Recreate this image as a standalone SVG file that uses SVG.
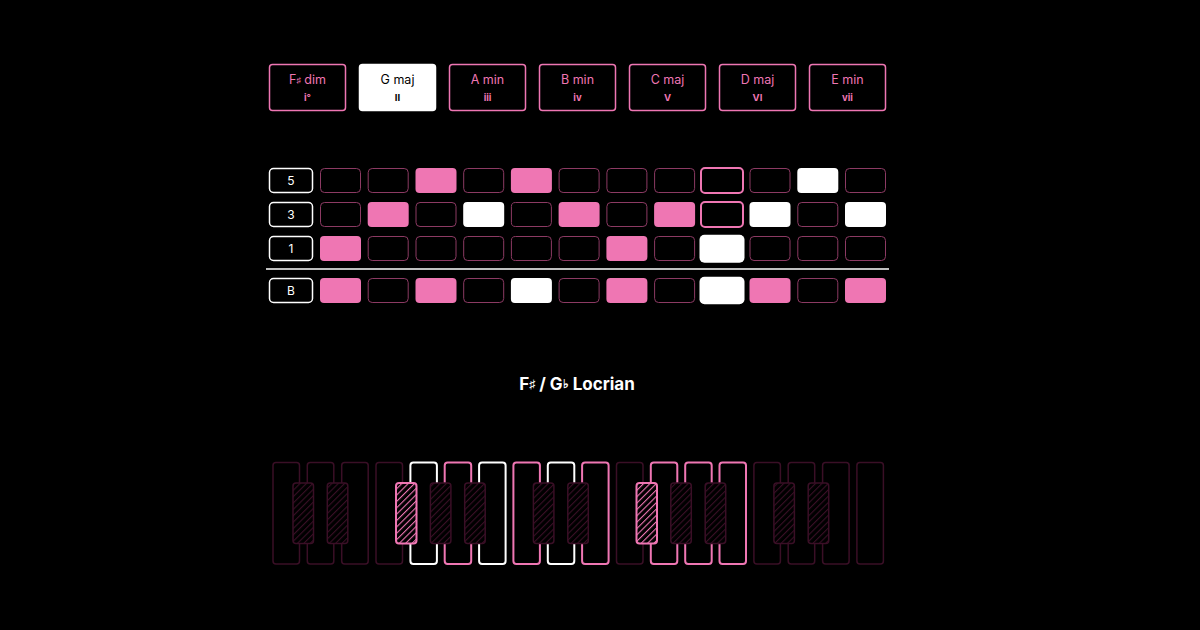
<svg xmlns="http://www.w3.org/2000/svg" width="1200" height="630" viewBox="0 0 1200 630">
<defs>
<style>
text{font-family:Inter,"Liberation Sans",sans-serif}
.chord{fill:#000;stroke:#ef76b3;stroke-width:1.5}
.chord.sel{fill:#fff;stroke:#fff}
.cn{font-size:12.5px;fill:#ef76b3;text-anchor:middle}
.cr{font-size:9.5px;font-weight:700;fill:#ef76b3;text-anchor:middle}
.sel-t{fill:#000}
.lab{fill:#000;stroke:#fff;stroke-width:1.5}
.labt{font-size:12px;fill:#fff;text-anchor:middle}
.c{fill:#000;stroke:#8c3a63;stroke-width:1}
.cp{fill:#ef76b3;stroke:none}
.cw{fill:#fff;stroke:none}
.ch{fill:#000;stroke:#ef76b3;stroke-width:2}
.wk{fill:#000;stroke:#3a0f26;stroke-width:1.5}
.wk.p{stroke:#ef76b3;stroke-width:2}
.wk.w{stroke:#fff;stroke-width:2}
.bk{stroke:#3a0f26;stroke-width:1.5}
.bk.p{stroke:#ef76b3;stroke-width:2}
</style>
<pattern id="hd" patternUnits="userSpaceOnUse" width="4.5" height="4.5" patternTransform="rotate(45)">
<rect width="4.5" height="4.5" fill="#000"/>
<line x1="0" y1="0" x2="0" y2="4.5" stroke="#3a0f26" stroke-width="2.2"/>
</pattern>
<pattern id="hp" patternUnits="userSpaceOnUse" width="4.5" height="4.5" patternTransform="rotate(45)">
<rect width="4.5" height="4.5" fill="#000"/>
<line x1="0" y1="0" x2="0" y2="4.5" stroke="#ef76b3" stroke-width="2.2"/>
</pattern>
</defs>
<rect width="1200" height="630" fill="#000"/>

<g id="chords">
<g id="chord-1"><rect class="chord" x="269.5" y="64.5" width="76" height="46" rx="3"/><text class="cn" x="307.5" y="84">F<tspan font-size="8.5" dy="-1">♯</tspan><tspan dy="1"> dim</tspan></text><text class="cr" x="307.5" y="101">i°</text></g>
<g id="chord-2"><rect class="chord sel" x="359.5" y="64.5" width="76" height="46" rx="3"/><text class="cn sel-t" x="397.5" y="84">G maj</text><text class="cr sel-t" x="397.5" y="101">II</text></g>
<g id="chord-3"><rect class="chord" x="449.5" y="64.5" width="76" height="46" rx="3"/><text class="cn" x="487.5" y="84">A min</text><text class="cr" x="487.5" y="101">iii</text></g>
<g id="chord-4"><rect class="chord" x="539.5" y="64.5" width="76" height="46" rx="3"/><text class="cn" x="577.5" y="84">B min</text><text class="cr" x="577.5" y="101">iv</text></g>
<g id="chord-5"><rect class="chord" x="629.5" y="64.5" width="76" height="46" rx="3"/><text class="cn" x="667.5" y="84">C maj</text><text class="cr" x="667.5" y="101">V</text></g>
<g id="chord-6"><rect class="chord" x="719.5" y="64.5" width="76" height="46" rx="3"/><text class="cn" x="757.5" y="84">D maj</text><text class="cr" x="757.5" y="101">VI</text></g>
<g id="chord-7"><rect class="chord" x="809.5" y="64.5" width="76" height="46" rx="3"/><text class="cn" x="847.5" y="84">E min</text><text class="cr" x="847.5" y="101">vii</text></g>
</g>

<g id="grid">
<g id="labels">
<rect class="lab" x="269.5" y="168.5" width="43" height="24" rx="4"/><text class="labt" x="291" y="185">5</text>
<rect class="lab" x="269.5" y="202.5" width="43" height="24" rx="4"/><text class="labt" x="291" y="219">3</text>
<rect class="lab" x="269.5" y="236.5" width="43" height="24" rx="4"/><text class="labt" x="291" y="253">1</text>
<rect class="lab" x="269.5" y="278.5" width="43" height="24" rx="4" stroke="#d8d8d8"/><text class="labt" x="291" y="295">B</text>
</g>
<g id="row-5">
<rect class="c" x="320.5" y="168.5" width="40" height="24" rx="4"/>
<rect class="c" x="368.2" y="168.5" width="40" height="24" rx="4"/>
<rect class="cp" x="415.5" y="168" width="41" height="25" rx="4"/>
<rect class="c" x="463.7" y="168.5" width="40" height="24" rx="4"/>
<rect class="cp" x="510.9" y="168" width="41" height="25" rx="4"/>
<rect class="c" x="559.1" y="168.5" width="40" height="24" rx="4"/>
<rect class="c" x="606.9" y="168.5" width="40" height="24" rx="4"/>
<rect class="c" x="654.6" y="168.5" width="40" height="24" rx="4"/>
<rect class="ch" x="701" y="168" width="42" height="25" rx="4"/>
<rect class="c" x="750" y="168.5" width="40" height="24" rx="4"/>
<rect class="cw" x="797.3" y="168" width="41" height="25" rx="4"/>
<rect class="c" x="845.5" y="168.5" width="40" height="24" rx="4"/>
</g>
<g id="row-3">
<rect class="c" x="320.5" y="202.5" width="40" height="24" rx="4"/>
<rect class="cp" x="367.7" y="202" width="41" height="25" rx="4"/>
<rect class="c" x="416" y="202.5" width="40" height="24" rx="4"/>
<rect class="cw" x="463.2" y="202" width="41" height="25" rx="4"/>
<rect class="c" x="511.4" y="202.5" width="40" height="24" rx="4"/>
<rect class="cp" x="558.6" y="202" width="41" height="25" rx="4"/>
<rect class="c" x="606.9" y="202.5" width="40" height="24" rx="4"/>
<rect class="cp" x="654.1" y="202" width="41" height="25" rx="4"/>
<rect class="ch" x="701" y="202" width="42" height="25" rx="4"/>
<rect class="cw" x="749.5" y="202" width="41" height="25" rx="4"/>
<rect class="c" x="797.8" y="202.5" width="40" height="24" rx="4"/>
<rect class="cw" x="845" y="202" width="41" height="25" rx="4"/>
</g>
<g id="row-1">
<rect class="cp" x="320" y="236" width="41" height="25" rx="4"/>
<rect class="c" x="368.2" y="236.5" width="40" height="24" rx="4"/>
<rect class="c" x="416" y="236.5" width="40" height="24" rx="4"/>
<rect class="c" x="463.7" y="236.5" width="40" height="24" rx="4"/>
<rect class="c" x="511.4" y="236.5" width="40" height="24" rx="4"/>
<rect class="c" x="559.1" y="236.5" width="40" height="24" rx="4"/>
<rect class="cp" x="606.4" y="236" width="41" height="25" rx="4"/>
<rect class="c" x="654.6" y="236.5" width="40" height="24" rx="4"/>
<rect class="cw" x="699.5" y="234.7" width="45" height="28" rx="5"/>
<rect class="c" x="750" y="236.5" width="40" height="24" rx="4"/>
<rect class="c" x="797.8" y="236.5" width="40" height="24" rx="4"/>
<rect class="c" x="845.5" y="236.5" width="40" height="24" rx="4"/>
</g>
<line id="divider" x1="266" y1="269" x2="889" y2="269" stroke="#fff" stroke-width="1.5"/>
<g id="row-B">
<rect class="cp" x="320" y="278" width="41" height="25" rx="4"/>
<rect class="c" x="368.2" y="278.5" width="40" height="24" rx="4"/>
<rect class="cp" x="415.5" y="278" width="41" height="25" rx="4"/>
<rect class="c" x="463.7" y="278.5" width="40" height="24" rx="4"/>
<rect class="cw" x="510.9" y="278" width="41" height="25" rx="4"/>
<rect class="c" x="559.1" y="278.5" width="40" height="24" rx="4"/>
<rect class="cp" x="606.4" y="278" width="41" height="25" rx="4"/>
<rect class="c" x="654.6" y="278.5" width="40" height="24" rx="4"/>
<rect class="cw" x="699.5" y="276.7" width="45" height="27.5" rx="5"/>
<rect class="cp" x="749.5" y="278" width="41" height="25" rx="4"/>
<rect class="c" x="797.8" y="278.5" width="40" height="24" rx="4"/>
<rect class="cp" x="845" y="278" width="41" height="25" rx="4"/>
</g>
</g>

<g id="title"><text x="577" y="390" font-size="17" font-weight="700" fill="#fff" text-anchor="middle">F<tspan font-size="12" dy="-2">♯</tspan><tspan dy="2"> / G</tspan><tspan font-size="12" dy="-2">♭</tspan><tspan dy="2"> Locrian</tspan></text></g>

<g id="piano">
<g id="white-keys">
<rect class="wk" x="273" y="462.5" width="26.5" height="101.5" rx="3"/>
<rect class="wk" x="307.3" y="462.5" width="26.5" height="101.5" rx="3"/>
<rect class="wk" x="341.7" y="462.5" width="26.5" height="101.5" rx="3"/>
<rect class="wk" x="376" y="462.5" width="26.5" height="101.5" rx="3"/>
<rect class="wk w" x="410.4" y="462.5" width="26.5" height="101.5" rx="3"/>
<rect class="wk p" x="444.7" y="462.5" width="26.5" height="101.5" rx="3"/>
<rect class="wk w" x="479.1" y="462.5" width="26.5" height="101.5" rx="3"/>
<rect class="wk p" x="513.4" y="462.5" width="26.5" height="101.5" rx="3"/>
<rect class="wk w" x="547.8" y="462.5" width="26.5" height="101.5" rx="3"/>
<rect class="wk p" x="582.1" y="462.5" width="26.5" height="101.5" rx="3"/>
<rect class="wk" x="616.5" y="462.5" width="26.5" height="101.5" rx="3"/>
<rect class="wk p" x="650.8" y="462.5" width="26.5" height="101.5" rx="3"/>
<rect class="wk p" x="685.2" y="462.5" width="26.5" height="101.5" rx="3"/>
<rect class="wk p" x="719.5" y="462.5" width="26.5" height="101.5" rx="3"/>
<rect class="wk" x="753.9" y="462.5" width="26.5" height="101.5" rx="3"/>
<rect class="wk" x="788.2" y="462.5" width="26.5" height="101.5" rx="3"/>
<rect class="wk" x="822.6" y="462.5" width="26.5" height="101.5" rx="3"/>
<rect class="wk" x="856.9" y="462.5" width="26.5" height="101.5" rx="3"/>
</g>
<g id="black-keys">
<rect class="bk" fill="url(#hd)" x="293" y="483" width="20.5" height="60.5" rx="3"/>
<rect class="bk" fill="url(#hd)" x="327.3" y="483" width="20.5" height="60.5" rx="3"/>
<rect class="bk p" fill="url(#hp)" x="396" y="483" width="20.5" height="60.5" rx="3"/>
<rect class="bk" fill="url(#hd)" x="430.4" y="483" width="20.5" height="60.5" rx="3"/>
<rect class="bk" fill="url(#hd)" x="464.7" y="483" width="20.5" height="60.5" rx="3"/>
<rect class="bk" fill="url(#hd)" x="533.4" y="483" width="20.5" height="60.5" rx="3"/>
<rect class="bk" fill="url(#hd)" x="567.8" y="483" width="20.5" height="60.5" rx="3"/>
<rect class="bk p" fill="url(#hp)" x="636.5" y="483" width="20.5" height="60.5" rx="3"/>
<rect class="bk" fill="url(#hd)" x="670.8" y="483" width="20.5" height="60.5" rx="3"/>
<rect class="bk" fill="url(#hd)" x="705.2" y="483" width="20.5" height="60.5" rx="3"/>
<rect class="bk" fill="url(#hd)" x="773.9" y="483" width="20.5" height="60.5" rx="3"/>
<rect class="bk" fill="url(#hd)" x="808.2" y="483" width="20.5" height="60.5" rx="3"/>
</g>
</g>
</svg>
